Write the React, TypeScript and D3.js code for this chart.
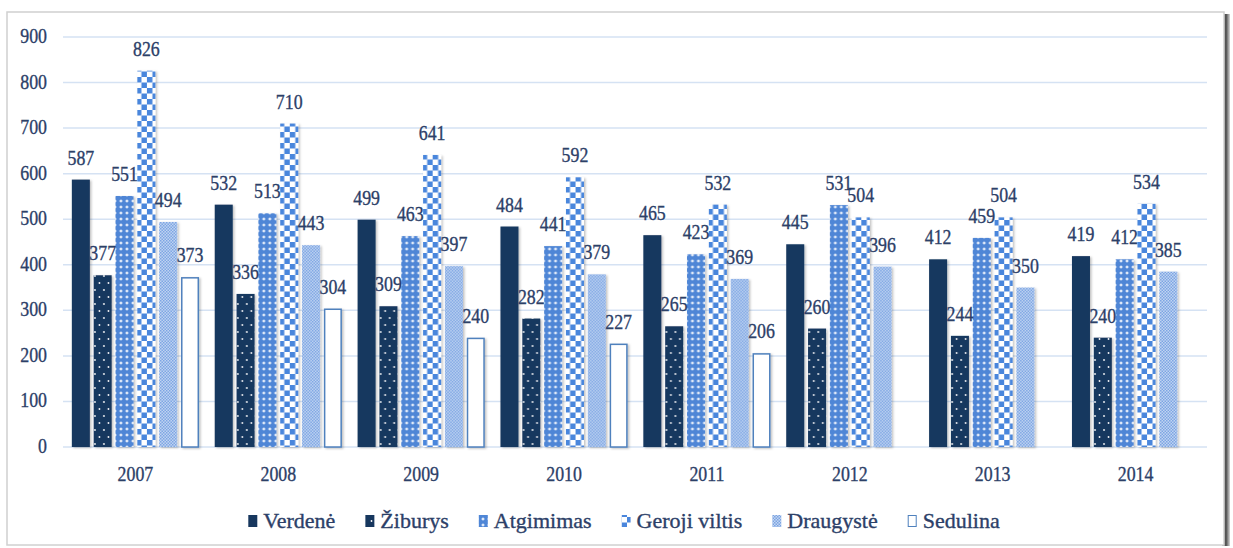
import React from "react";
import * as d3 from "d3";

const years = ["2007", "2008", "2009", "2010", "2011", "2012", "2013", "2014"];
const seriesNames = ["Verdenė", "Žiburys", "Atgimimas", "Geroji viltis", "Draugystė", "Sedulina"];
const verdene = [587, 532, 499, 484, 465, 445, 412, 419];
const ziburys = [377, 336, 309, 282, 265, 260, 244, 240];
const atgimimas = [551, 513, 463, 441, 423, 531, 459, 412];
const gerojiViltis = [826, 710, 641, 592, 532, 504, 504, 534];
const draugyste = [494, 443, 397, 379, 369, 396, 350, 385];
const sedulina: (number | null)[] = [373, 304, 240, 227, 206, null, null, null];
const yTicks = [0, 100, 200, 300, 400, 500, 600, 700, 800, 900];

const seriesValues = [verdene, ziburys, atgimimas, gerojiViltis, draugyste, sedulina];
const fills = ["#17375e", "url(#pDots)", "url(#pDiamond)", "url(#pChecker)", "url(#pFine)", "#ffffff"];
const strokes = ["none", "none", "none", "none", "none", "#4f81bd"];

const W = 1233;
const H = 548;
const plotL = 64;
const plotR = 1207;
const plotT = 37;
const plotB = 447;
const textColor = "#2c4068";
const numFont = 21;
const squash = 0.85;
const legendFont = 22;
const FONT = "'Liberation Serif', 'Times New Roman', Times, serif";

function measure(text: string, size: number) {
  const c = document.createElement("canvas").getContext("2d");
  if (!c) return text.length * size * 0.45;
  c.font = `${size}px 'Liberation Serif', 'Times New Roman', serif`;
  return c.measureText(text).width;
}

export default function App() {
  const y = d3.scaleLinear().domain([0, 900]).range([plotB, plotT]);
  const x0 = d3.scaleBand<string>().domain(years).range([plotL, plotR]).paddingInner(0.083).paddingOuter(0.0415);
  const x1 = d3
    .scaleBand<string>()
    .domain(seriesNames)
    .range([0, x0.bandwidth()])
    .paddingInner(0.175)
    .paddingOuter(0.0875);

  const markerW = 9;
  const markerH = 12;
  const markerGap = 6;
  const itemGap = 30;
  const widths = seriesNames.map((s) => measure(s, legendFont));
  const total = widths.reduce((a, w) => a + markerW + markerGap + w, 0) + itemGap * (seriesNames.length - 1);
  let lx = 624 - total / 2;
  const legendItems = seriesNames.map((s, i) => {
    const item = { name: s, x: lx, i, w: widths[i] };
    lx += markerW + markerGap + widths[i] + itemGap;
    return item;
  });
  const legendY = 521;

  const numText = (key: string, tx: number, ty: number, t: string, anchor: string) => (
    <text
      key={key}
      transform={`translate(${tx},${ty}) scale(${squash},1)`}
      textAnchor={anchor}
      fill={textColor}
      stroke={textColor}
      strokeWidth={0.35}
      style={{ fontFamily: FONT, fontSize: numFont }}
    >
      {t}
    </text>
  );

  return (
    <svg
      width={W}
      height={H}
      style={{ position: "absolute", left: 0, top: 0, background: "#fff", fontFamily: FONT }}
    >
      <defs>
        <pattern id="pDots" width="9" height="14" patternUnits="userSpaceOnUse">
          <rect width="9" height="14" fill="#17375e" />
          <circle cx="2.5" cy="3" r="0.9" fill="#ffffff" />
          <circle cx="7" cy="10" r="0.9" fill="#ffffff" />
        </pattern>
        <pattern id="pDiamond" width="6" height="6" patternUnits="userSpaceOnUse">
          <rect width="6" height="6" fill="#4f86d6" />
          <path d="M3,1.2 L4.8,3 L3,4.8 L1.2,3 Z" fill="#e3ecf9" />
        </pattern>
        <pattern id="pChecker" width="11" height="11" patternUnits="userSpaceOnUse">
          <rect width="11" height="11" fill="#ffffff" />
          <rect x="0" y="0" width="5.5" height="5.5" fill="#4a86dc" />
          <rect x="5.5" y="5.5" width="5.5" height="5.5" fill="#4a86dc" />
        </pattern>
        <pattern id="pFine" width="3" height="3" patternUnits="userSpaceOnUse">
          <rect width="3" height="3" fill="#c3d6f2" />
          <rect x="0" y="0" width="1.5" height="1.5" fill="#7aa3e2" />
          <rect x="1.5" y="1.5" width="1.5" height="1.5" fill="#7aa3e2" />
        </pattern>
        <filter id="barShadow" x="-20%" y="-5%" width="150%" height="115%">
          <feDropShadow dx="1.5" dy="1" stdDeviation="1" floodColor="#000" floodOpacity="0.25" />
        </filter>
        <linearGradient id="rightShadow" x1="0" x2="1" y1="0" y2="0">
          <stop offset="0" stopColor="#9a9a9a" />
          <stop offset="0.5" stopColor="#4a4a4a" />
          <stop offset="1" stopColor="#d8d8d8" />
        </linearGradient>
      </defs>

      {/* frame */}
      <rect x={1222} y={14} width={8} height={532} fill="url(#rightShadow)" />
      <rect x={7} y={12} width={1217} height={533} fill="#ffffff" stroke="#d0d0d0" strokeWidth={1.5} />

      {/* gridlines */}
      {yTicks.map((t) => (
        <line
          key={"g" + t}
          x1={plotL - 1}
          x2={plotR}
          y1={y(t)}
          y2={y(t)}
          stroke="#d5e2f3"
          strokeWidth={1.5}
        />
      ))}
      {yTicks.map((t) => numText("yt" + t, 47, y(t) + 6, String(t), "end"))}

      {/* bars */}
      {years.map((yr, gi) => (
        <g key={yr} transform={`translate(${x0(yr)},0)`}>
          {seriesNames.map((s, si) => {
            const v = seriesValues[si][gi];
            if (v == null) return null;
            const bx = x1(s) as number;
            const bw = x1.bandwidth();
            const o = strokes[si] !== "none" ? 0.75 : 0;
            return (
              <rect
                key={s}
                x={bx + o}
                y={y(v) + o}
                width={bw - 2 * o}
                height={y(0) - y(v) - o}
                fill={fills[si]}
                stroke={strokes[si]}
                strokeWidth={1.5}
                filter="url(#barShadow)"
              />
            );
          })}
        </g>
      ))}

      {/* labels */}
      {years.map((yr, gi) =>
        seriesNames.map((s, si) => {
          const v = seriesValues[si][gi];
          if (v == null) return null;
          const cx = (x0(yr) as number) + (x1(s) as number) + x1.bandwidth() / 2;
          return numText(`l${gi}-${si}`, cx, y(v) - 15, String(v), "middle");
        })
      )}

      {/* x labels */}
      {years.map((yr) => numText("x" + yr, (x0(yr) as number) + x0.bandwidth() / 2, 481, yr, "middle"))}

      {/* legend */}
      {legendItems.map((it) => {
        const o = strokes[it.i] !== "none" ? 0.5 : 0;
        return (
          <g key={it.name}>
            <rect
              x={it.x + o}
              y={legendY - markerH / 2 + o}
              width={markerW - 2 * o}
              height={markerH - 2 * o}
              fill={fills[it.i]}
              stroke={strokes[it.i]}
              strokeWidth={1}
            />
            <text
              x={it.x + markerW + markerGap}
              y={legendY + 7}
              fill={textColor}
              stroke={textColor}
              strokeWidth={0.35}
              style={{ fontFamily: FONT, fontSize: legendFont }}
            >
              {it.name}
            </text>
          </g>
        );
      })}
    </svg>
  );
}
